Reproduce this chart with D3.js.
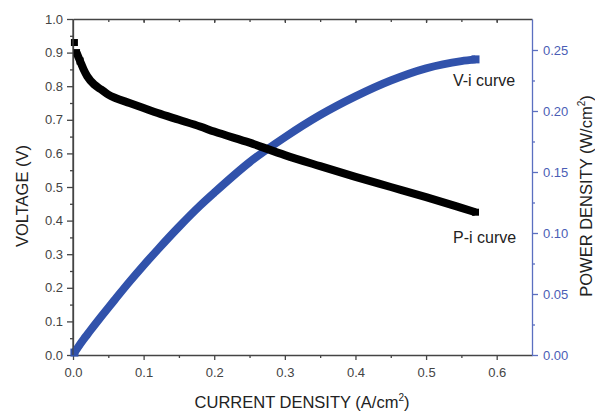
<!DOCTYPE html>
<html>
<head>
<meta charset="utf-8">
<script src="https://d3js.org/d3.v7.min.js"></script>
<style>
  body { margin: 0; background: #fff; }
  svg { font-family: "Liberation Sans", Arial, sans-serif; }
  .axis text { font-size: 13px; fill: #444; }
  .axis path, .axis line { stroke: #444; stroke-width: 1.3; }
  .axis--right path, .axis--right line { stroke: #5b6fc0; }
  .axis--right text { fill: #4a5db5; }
  .title { font-size: 16.5px; fill: #222; }
  .note { font-size: 16px; fill: #222; }
</style>
</head>
<body>
<svg width="595" height="412"></svg>
<script>
// values
var current = [0.002, 0.005, 0.01, 0.015, 0.02, 0.03, 0.04, 0.05, 0.06, 0.08, 0.10, 0.12,
               0.15, 0.18, 0.20, 0.25, 0.30, 0.35, 0.40, 0.45, 0.50, 0.55, 0.57];
var voltage = [0.93, 0.90, 0.875, 0.85, 0.83, 0.805, 0.79, 0.775, 0.765, 0.75, 0.735, 0.72,
               0.70, 0.68, 0.665, 0.632, 0.595, 0.562, 0.53, 0.50, 0.47, 0.438, 0.425];
var power = [0.002, 0.0045, 0.0088, 0.0128, 0.0166, 0.0242, 0.0316, 0.0388, 0.0459, 0.060, 0.0735, 0.0864,
             0.105, 0.1224, 0.133, 0.158, 0.1785, 0.1967, 0.212, 0.225, 0.235, 0.2409, 0.2423];
var xTicks = [0.0, 0.1, 0.2, 0.3, 0.4, 0.5, 0.6];
var yTicks = [0.0, 0.1, 0.2, 0.3, 0.4, 0.5, 0.6, 0.7, 0.8, 0.9, 1.0];
var y2Ticks = [0.00, 0.05, 0.10, 0.15, 0.20, 0.25];

var svg = d3.select("svg"),
    margin = {top: 19, right: 63, bottom: 57, left: 73},
    width = +svg.attr("width") - margin.left - margin.right,
    height = +svg.attr("height") - margin.top - margin.bottom;

var x = d3.scaleLinear().domain([0, 0.65]).range([0, width]),
    y = d3.scaleLinear().domain([0, 1.0]).range([height, 0]),
    y2 = d3.scaleLinear().domain([0, 0.2754]).range([height, 0]);

var g = svg.append("g")
    .attr("transform", "translate(" + margin.left + "," + margin.top + ")");

var blue = "#3152ab";

// minor ticks first, then the real axes on top
function minor(sel, axis) {
    sel.call(axis).call(function (a) {
        a.select(".domain").remove();
        a.selectAll("text").remove();
    });
}
g.append("g").attr("class", "axis").attr("transform", "translate(0," + height + ")")
    .call(minor, d3.axisBottom(x).tickValues(d3.range(0.05, 0.65, 0.1)).tickSize(3));
g.append("g").attr("class", "axis")
    .call(minor, d3.axisTop(x).tickValues(d3.range(0.05, 0.65, 0.05)).tickSize(-3));
g.append("g").attr("class", "axis")
    .call(minor, d3.axisLeft(y).tickValues(d3.range(0.05, 1.0, 0.1)).tickSize(3));
g.append("g").attr("class", "axis axis--right").attr("transform", "translate(" + width + ",0)")
    .call(minor, d3.axisRight(y2).tickValues(d3.range(0.025, 0.27, 0.05)).tickSize(3));

g.append("g")
    .attr("class", "axis axis--x")
    .attr("transform", "translate(0," + height + ")")
    .call(d3.axisBottom(x).tickValues(xTicks).tickFormat(d3.format(".1f")).tickSize(5).tickSizeOuter(0).tickPadding(8));

g.append("g")
    .attr("class", "axis axis--top")
    .call(d3.axisTop(x).tickValues(xTicks.slice(1)).tickSize(-4).tickSizeOuter(0).tickFormat(""));

g.append("g")
    .attr("class", "axis axis--y")
    .call(d3.axisLeft(y).tickValues(yTicks).tickFormat(d3.format(".1f")).tickSize(6).tickSizeOuter(0).tickPadding(4));

g.append("g")
    .attr("class", "axis axis--right")
    .attr("transform", "translate(" + width + ",0)")
    .call(d3.axisRight(y2).tickValues(y2Ticks).tickFormat(d3.format(".2f")).tickSize(6).tickSizeOuter(0).tickPadding(5));

// curves: dense square markers joined by a thick line
var vData = current.map(function (d, i) { return [d, voltage[i]]; });
var pData = current.map(function (d, i) { return [d, power[i]]; });

var vLine = d3.line().curve(d3.curveMonotoneX)
    .x(function (d) { return x(d[0]); }).y(function (d) { return y(d[1]); });
var pLine = d3.line().curve(d3.curveMonotoneX)
    .x(function (d) { return x(d[0]); }).y(function (d) { return y2(d[1]); });

g.append("path").datum(pData).attr("d", pLine)
    .attr("fill", "none").attr("stroke", blue).attr("stroke-width", 8);
g.selectAll(".pmark").data([pData[0], pData[pData.length - 1]]).enter().append("rect")
    .attr("class", "pmark")
    .attr("x", function (d) { return x(d[0]) - 4; })
    .attr("y", function (d) { return y2(d[1]) - 4; })
    .attr("width", 8).attr("height", 8).attr("fill", blue);

g.append("path").datum(vData.slice(1)).attr("d", vLine)
    .attr("fill", "none").attr("stroke", "#000").attr("stroke-width", 8);
g.selectAll(".vmark").data(vData.slice(0, 3).concat([vData[vData.length - 1]])).enter().append("rect")
    .attr("class", "vmark")
    .attr("x", function (d) { return x(d[0]) - 3.5; })
    .attr("y", function (d) { return y(d[1]) - 3.5; })
    .attr("width", 7).attr("height", 7).attr("fill", "#000");

// redraw left axis line over the curve start
g.append("line").attr("x1", 0).attr("x2", 0).attr("y1", 0).attr("y2", height)
    .attr("stroke", "#444").attr("stroke-width", 1.3);

// curve labels
g.append("text").attr("class", "note").attr("x", 380).attr("y", 67).text("V-i curve");
g.append("text").attr("class", "note").attr("x", 380).attr("y", 224).text("P-i curve");

// axis titles
var xt = svg.append("text").attr("class", "title")
    .attr("x", 302).attr("y", 408).attr("text-anchor", "middle");
xt.append("tspan").text("CURRENT DENSITY (A/cm");
xt.append("tspan").attr("font-size", "10px").attr("dy", -7).text("2");
xt.append("tspan").attr("dy", 7).text(")");

svg.append("text").attr("class", "title")
    .attr("transform", "translate(28,196) rotate(-90)")
    .attr("text-anchor", "middle").text("VOLTAGE (V)");

var yt = svg.append("text").attr("class", "title")
    .attr("transform", "translate(592,196) rotate(-90)")
    .attr("text-anchor", "middle");
yt.append("tspan").text("POWER DENSITY (W/cm");
yt.append("tspan").attr("font-size", "10px").attr("dy", -7).text("2");
yt.append("tspan").attr("dy", 7).text(")");
</script>
</body>
</html>
